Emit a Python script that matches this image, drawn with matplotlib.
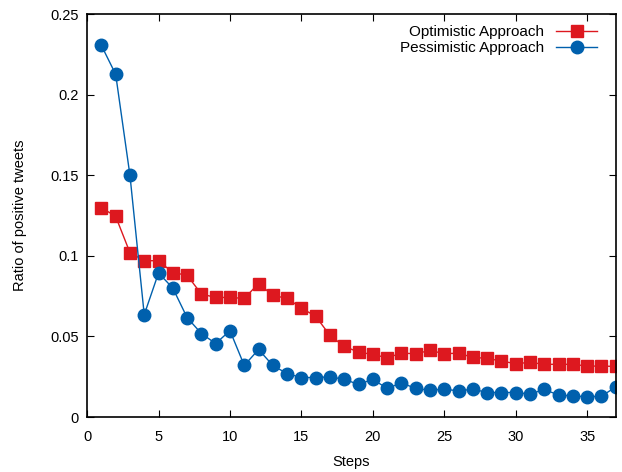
import matplotlib.pyplot as plt

plt.rcParams['font.family'] = ['Liberation Sans', 'DejaVu Sans']

steps = list(range(1, 38))

optimistic = [0.130, 0.1245, 0.102, 0.097, 0.097, 0.0896, 0.088, 0.0763, 0.0742, 0.0742,
              0.0736, 0.0828, 0.0755, 0.0736, 0.0676, 0.0625, 0.0506, 0.0438, 0.0403, 0.0388,
              0.0368, 0.0396, 0.0393, 0.0413, 0.0393, 0.0396, 0.037, 0.0364, 0.0347, 0.0331,
              0.0339, 0.0327, 0.0327, 0.0327, 0.0316, 0.0316, 0.0314]

pessimistic = [0.2306, 0.2127, 0.150, 0.0635, 0.0894, 0.080, 0.0617, 0.0518, 0.0456, 0.0536,
               0.032, 0.0419, 0.032, 0.0269, 0.0245, 0.0245, 0.0249, 0.0234, 0.0202, 0.0234,
               0.0177, 0.0212, 0.0177, 0.0166, 0.0173, 0.0162, 0.0173, 0.0152, 0.0152, 0.0152,
               0.0142, 0.0171, 0.0136, 0.0131, 0.0125, 0.0129, 0.0187]

fig = plt.figure(figsize=(6.22, 4.72), dpi=100)
ax = fig.add_axes([0.14, 0.1165, 0.85, 0.8535])

ax.plot(steps, optimistic, color='#dd181f', marker='s', markersize=9, linewidth=1,
        label='Optimistic Approach')
ax.plot(steps, pessimistic, color='#0060ad', marker='o', markersize=9, linewidth=1,
        label='Pessimistic Approach')

ax.set_xlim(0, 37)
ax.set_ylim(0, 0.25)
ax.set_xticks(range(0, 36, 5))
ax.set_yticks([0, 0.05, 0.1, 0.15, 0.2, 0.25])
ax.set_yticklabels(['0', '0.05', '0.1', '0.15', '0.2', '0.25'])
ax.tick_params(direction='in', top=True, right=True, length=5, labelsize=10.5, pad=6)
ax.tick_params(axis='x', pad=9)
for s in ax.spines.values():
    s.set_linewidth(1.2)

ax.set_xlabel('Steps', fontsize=10.5, labelpad=8)
ax.set_ylabel('Ratio of positive tweets', fontsize=10.5, labelpad=17)

ax.legend(loc='upper right', frameon=False, markerfirst=False, fontsize=11,
          handlelength=2.7, handletextpad=0.8, labelspacing=0.15,
          borderaxespad=0.3, bbox_to_anchor=(0.985, 1.0))

fig.savefig('out.png', dpi=100)
